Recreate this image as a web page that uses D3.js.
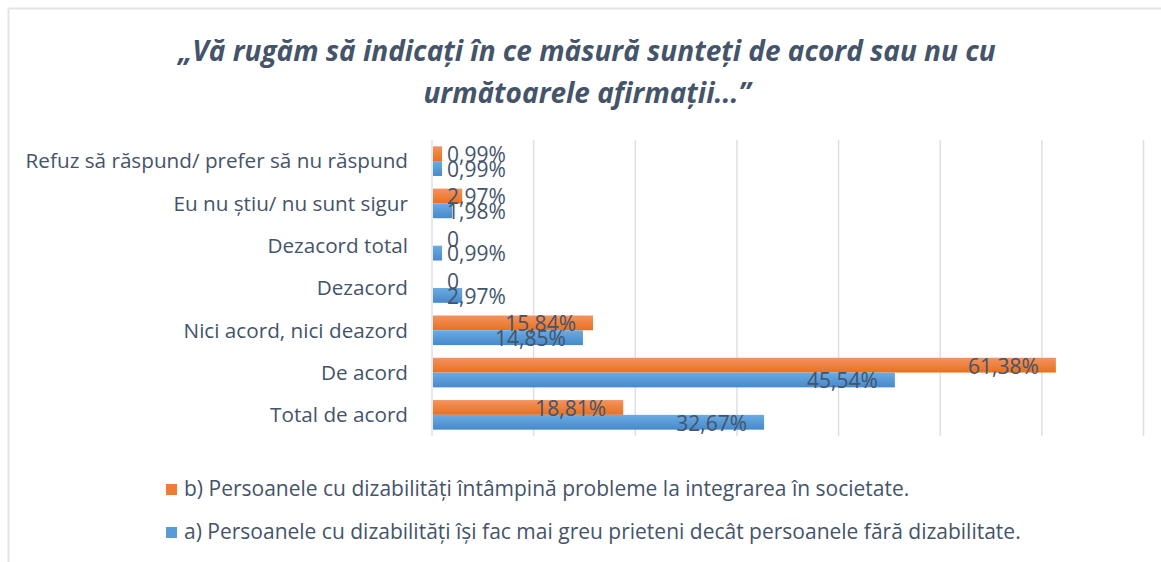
<!DOCTYPE html>
<html><head><meta charset="utf-8">
<script src="https://cdn.jsdelivr.net/npm/d3@7"></script>
<style>
body{margin:0;background:#fff;}
svg{display:block;}
text{font-family:"Open Sans",sans-serif;fill:#44546A;}
</style></head>
<body>
<svg id="c" width="1161" height="562"></svg>
<script>
const categories = ["Refuz să răspund/ prefer să nu răspund","Eu nu știu/ nu sunt sigur","Dezacord total","Dezacord","Nici acord, nici deazord","De acord","Total de acord"];
const seriesNames = ["b) Persoanele cu dizabilități întâmpină probleme la integrarea în societate.","a) Persoanele cu dizabilități își fac mai greu prieteni decât persoanele fără dizabilitate."];
const valuesB = [0.99, 2.97, 0, 0, 15.84, 61.38, 18.81];
const valuesA = [0.99, 1.98, 0.99, 2.97, 14.85, 45.54, 32.67];
const xTicks = [0,10,20,30,40,50,60,70];
const titleLines = ["„Vă rugăm să indicați în ce măsură sunteți de acord sau nu cu","următoarele afirmații...”"];

const svg = d3.select("#c");
const defs = svg.append("defs");
function grad(id, top, bot){
  const g = defs.append("linearGradient").attr("id",id).attr("x1",0).attr("y1",0).attr("x2",0).attr("y2",1);
  g.append("stop").attr("offset","0%").attr("stop-color",top);
  g.append("stop").attr("offset","100%").attr("stop-color",bot);
}
grad("gB","#F39360","#E8711F");
grad("gA","#6CABE2","#4689CC");
const fills = ["url(#gB)","url(#gA)"];
const legendFills = ["#EE7C33","#5B9BD5"];

// frame
svg.append("line").attr("x1",8.5).attr("x2",1161).attr("y1",8.5).attr("y2",8.5).attr("stroke","#E0E3E8").attr("stroke-width",2);
svg.append("line").attr("x1",8.5).attr("x2",8.5).attr("y1",8.5).attr("y2",562).attr("stroke","#E0E3E8").attr("stroke-width",2);

// title
svg.append("g").selectAll("text").data(titleLines).join("text")
  .attr("x",587).attr("y",(d,i)=>61+i*42).attr("text-anchor","middle")
  .style("font-size","28px").style("font-weight","bold").style("font-style","italic")
  .text(d=>d);

const x = d3.scaleLinear().domain([0,70]).range([432,1143.5]);
const y = d3.scaleBand().domain(categories).range([140,436]).paddingInner(0.3).paddingOuter(0.15);
const ySub = d3.scaleBand().domain([0,1]).range([0,y.bandwidth()]);

// gridlines
svg.append("g").selectAll("line").data(xTicks).join("line")
  .attr("x1",d=>x(d)).attr("x2",d=>x(d)).attr("y1",140).attr("y2",436)
  .attr("stroke","#DCE0E6").attr("stroke-width",1.5);

// category labels
svg.append("g").selectAll("text").data(categories).join("text")
  .attr("x",408).attr("y",d=>y(d)+y.bandwidth()/2).attr("dy","0.35em")
  .attr("text-anchor","end").style("font-size","20.7px").text(d=>d);

const bars = [];
categories.forEach((c,i)=>{
  bars.push({c, s:0, v:valuesB[i]});
  bars.push({c, s:1, v:valuesA[i]});
});

svg.append("g").selectAll("rect").data(bars).join("rect")
  .attr("x",x(0)+1).attr("y",d=>y(d.c)+ySub(d.s))
  .attr("width",d=>Math.max(0,x(d.v)-x(0)-1)).attr("height",ySub.bandwidth())
  .attr("fill",d=>fills[d.s]);

const fmt = v => v===0 ? "0" : d3.format(".2f")(v).replace(".",",")+"%";
svg.append("g").selectAll("text").data(bars).join("text")
  .attr("y",d=>y(d.c)+ySub(d.s)+ySub.bandwidth()/2+1).attr("dy","0.35em")
  .style("font-size","21px").text(d=>fmt(d.v))
  .each(function(d){
    const w = this.getComputedTextLength();
    const xs = Math.max(x(d.v)-17-w, x(0)+15);
    d3.select(this).attr("x",xs);
  });

// legend
const lg = svg.append("g").selectAll("g").data(seriesNames).join("g")
  .attr("transform",(d,i)=>`translate(166,${489+i*43})`);
lg.append("rect").attr("x",0).attr("y",-5).attr("width",11).attr("height",11).attr("fill",(d,i)=>legendFills[i]);
lg.append("text").attr("x",18).attr("y",0).attr("dy","0.35em").style("font-size","21px").text(d=>d);
</script>
</body></html>
